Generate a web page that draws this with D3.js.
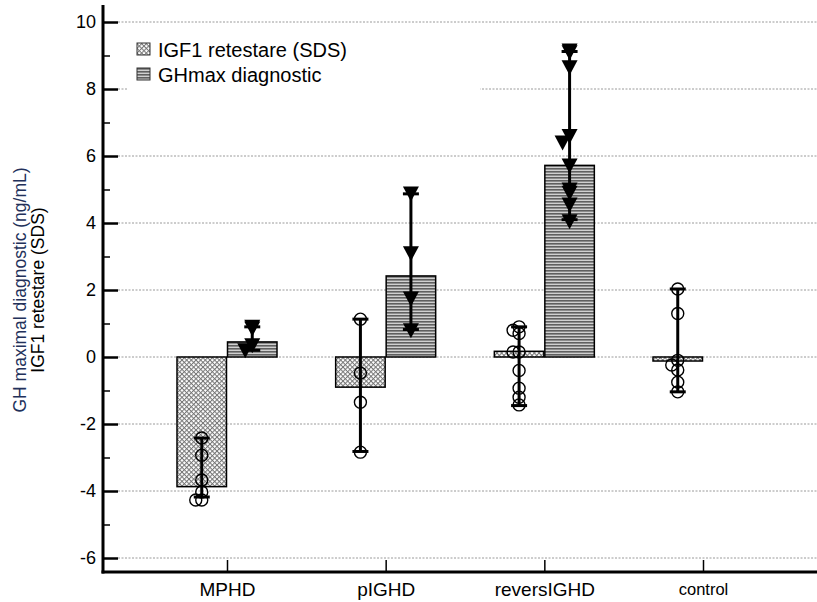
<!DOCTYPE html>
<html>
  <head>
    <meta charset="utf-8">
    <style>
      body { margin: 0; background: #fff; font-family: "Liberation Sans", Arial, sans-serif; }
      .grid line { stroke: #9a9a9a; stroke-width: 1; stroke-dasharray: 2,1.5; }
      .axis path, .axis line { stroke: #000; }
      .axis text { font-family: "Liberation Sans", Arial, sans-serif; fill: #000; }
    </style>
  </head>
  <body>
    <script src="https://d3js.org/d3.v7.min.js"></script>
    <script>
      // groups on the x axis
      var categories = ["MPHD", "pIGHD", "reversIGHD", "control"];

      // IGF1 retestare (SDS): bar value, error bar ends, individual points
      var igf1Mean = [-3.87, -0.9, 0.17, -0.12];
      var igf1Low  = [-4.18, -2.82, -1.45, -1.04];
      var igf1High = [-2.42, 1.13, 0.9, 2.03];
      var igf1Points = [
        [-2.42, -2.93, -3.67, -4.03, -4.27, -4.27],
        [1.13, -0.48, -1.35, -2.84],
        [0.9, 0.8, 0.7, 0.15, 0.15, -0.4, -0.93, -1.2, -1.43],
        [2.03, 1.3, -0.1, -0.24, -0.39, -0.75, -1.04]
      ];

      // GHmax diagnostic: no data for control
      var ghMean = [0.45, 2.42, 5.72, null];
      var ghLow  = [0.2, 0.82, 4.1, null];
      var ghHigh = [0.9, 4.87, 9.12, null];
      var ghPoints = [
        [0.9, 0.85, 0.35, 0.2],
        [4.88, 3.1, 1.75, 0.8],
        [9.15, 9.1, 8.65, 6.6, 6.4, 5.72, 5.0, 4.9, 4.55, 4.05],
        []
      ];

      var yTicks = [-6, -4, -2, 0, 2, 4, 6, 8, 10];
      var yMinorTicks = [-5, -3, -1, 1, 3, 5, 7, 9];
      var legendLabels = ["IGF1 retestare (SDS)", "GHmax diagnostic"];

      var width = 817, height = 602;
      var axisLeftX = 103, axisBottomY = 572, axisTopY = 5;

      var svg = d3.select("body").append("svg")
          .attr("width", width)
          .attr("height", height);

      var y = d3.scaleLinear().domain([-6, 10]).range([558, 22]);
      var x = d3.scalePoint().domain(categories).range([227, 703]);
      var sub = d3.scaleBand().domain(["igf1", "gh"]).range([-50, 50]).paddingInner(0.02);

      // fill patterns
      var defs = svg.append("defs");
      var hatch = defs.append("pattern")
          .attr("id", "hatch")
          .attr("patternUnits", "userSpaceOnUse")
          .attr("width", 3.3).attr("height", 3.3)
          .attr("patternTransform", "rotate(45)");
      hatch.append("rect").attr("width", 3.3).attr("height", 3.3).attr("fill", "#fff");
      hatch.append("path").attr("d", "M0.5,0V3.3M0,0.5H3.3")
          .attr("stroke", "#767676").attr("stroke-width", 1);

      var stripes = defs.append("pattern")
          .attr("id", "stripes")
          .attr("patternUnits", "userSpaceOnUse")
          .attr("width", 8).attr("height", 3);
      stripes.append("rect").attr("width", 8).attr("height", 3).attr("fill", "#d0d0d0");
      stripes.append("rect").attr("width", 8).attr("height", 1.6).attr("fill", "#606060");

      // gridlines
      svg.append("g").attr("class", "grid")
        .selectAll("line")
        .data(yTicks)
        .enter().append("line")
          .attr("x1", axisLeftX + 15).attr("x2", width)
          .attr("y1", function(d) { return y(d); })
          .attr("y2", function(d) { return y(d); });

      // legend background hides the gridline under it
      svg.append("rect")
          .attr("x", 128).attr("y", 30)
          .attr("width", 352).attr("height", 68)
          .attr("fill", "#fff");

      // build per-series rows
      var series = [
        {key: "igf1", fill: "url(#hatch)", mean: igf1Mean, low: igf1Low, high: igf1High, pts: igf1Points, shape: "circle"},
        {key: "gh", fill: "url(#stripes)", mean: ghMean, low: ghLow, high: ghHigh, pts: ghPoints, shape: "triangle"}
      ];

      var rows = [];
      series.forEach(function(s) {
        categories.forEach(function(c, i) {
          if (s.mean[i] == null) return;
          rows.push({
            s: s, cat: c,
            cx: x(c) + sub(s.key) + sub.bandwidth() / 2,
            mean: s.mean[i], low: s.low[i], high: s.high[i], pts: s.pts[i]
          });
        });
      });

      // bars
      svg.append("g").selectAll("rect")
          .data(rows)
          .enter().append("rect")
            .attr("x", function(d) { return x(d.cat) + sub(d.s.key); })
            .attr("width", sub.bandwidth())
            .attr("y", function(d) { return y(Math.max(0, d.mean)); })
            .attr("height", function(d) { return Math.abs(y(d.mean) - y(0)); })
            .attr("fill", function(d) { return d.s.fill; })
            .attr("stroke", "#000")
            .attr("stroke-width", 1.5);

      // error bars
      var err = svg.append("g").selectAll("g")
          .data(rows)
          .enter().append("g")
            .attr("stroke", "#000")
            .attr("stroke-width", 3);
      err.append("line")
          .attr("x1", function(d) { return d.cx; })
          .attr("x2", function(d) { return d.cx; })
          .attr("y1", function(d) { return y(d.low); })
          .attr("y2", function(d) { return y(d.high); });
      err.selectAll(".cap")
          .data(function(d) { return [{cx: d.cx, v: d.low}, {cx: d.cx, v: d.high}]; })
          .enter().append("line")
            .attr("class", "cap")
            .attr("x1", function(d) { return d.cx - 8; })
            .attr("x2", function(d) { return d.cx + 8; })
            .attr("y1", function(d) { return y(d.v); })
            .attr("y2", function(d) { return y(d.v); });

      // simple dodge so coinciding points sit side by side
      function dodge(values, cx, minDist, step) {
        var placed = [];
        return values.map(function(v) {
          var py = y(v), best = null;
          [0, -step, step].forEach(function(off) {
            var dmin = Infinity;
            placed.forEach(function(p) {
              var dd = Math.hypot(p.x - (cx + off), p.y - py);
              if (dd < dmin) dmin = dd;
            });
            if (best === null && dmin >= minDist) best = off;
          });
          if (best === null) best = 0;
          var pt = {x: cx + best, y: py};
          placed.push(pt);
          return pt;
        });
      }

      var points = svg.append("g");
      rows.forEach(function(r) {
        if (r.s.shape === "circle") {
          points.append("g").selectAll("circle")
              .data(dodge(r.pts, r.cx, 6, 6))
              .enter().append("circle")
                .attr("cx", function(d) { return d.x; })
                .attr("cy", function(d) { return d.y; })
                .attr("r", 6)
                .attr("fill", "none")
                .attr("stroke", "#000")
                .attr("stroke-width", 1.4);
        } else {
          points.append("g").selectAll("path")
              .data(dodge(r.pts, r.cx, 8, 7))
              .enter().append("path")
                .attr("d", "M-8,-7L8,-7L0,8Z")
                .attr("transform", function(d) { return "translate(" + d.x + "," + d.y + ")"; })
                .attr("fill", "#000");
        }
      });

      // y axis with inward ticks
      var yAxis = svg.append("g")
          .attr("class", "axis")
          .attr("transform", "translate(" + axisLeftX + ",0)")
          .call(d3.axisLeft(y).tickValues(yTicks).tickSizeInner(-15).tickSizeOuter(0).tickPadding(7)
            .tickFormat(function(d) { return String(d); }));
      yAxis.select(".domain").remove();
      yAxis.selectAll("line").attr("stroke-width", 2.5);
      yAxis.selectAll("text").style("font-size", "18px");

      svg.append("g")
          .attr("class", "axis")
          .attr("transform", "translate(" + axisLeftX + ",0)")
          .call(d3.axisLeft(y).tickValues(yMinorTicks).tickSizeInner(-7).tickSizeOuter(0).tickFormat(""))
        .call(function(g) { g.select(".domain").remove(); })
        .selectAll("line").attr("stroke-width", 1.5);

      // x axis with inward ticks
      var xAxis = svg.append("g")
          .attr("class", "axis")
          .attr("transform", "translate(0," + axisBottomY + ")")
          .call(d3.axisBottom(x).tickSizeInner(-12).tickSizeOuter(0).tickPadding(11));
      xAxis.select(".domain").remove();
      xAxis.selectAll("line").attr("stroke-width", 1.5);
      xAxis.selectAll("text")
          .style("font-size", function(d) { return d === "control" ? "16.5px" : "19px"; });

      // axis frame lines
      svg.append("line")
          .attr("x1", axisLeftX).attr("x2", axisLeftX)
          .attr("y1", axisTopY).attr("y2", axisBottomY + 1.5)
          .attr("stroke", "#000").attr("stroke-width", 3);
      svg.append("line")
          .attr("x1", axisLeftX - 1.5).attr("x2", width)
          .attr("y1", axisBottomY).attr("y2", axisBottomY)
          .attr("stroke", "#000").attr("stroke-width", 3);

      // y axis title, two lines
      var title = svg.append("g").attr("transform", "translate(0,290) rotate(-90)");
      title.append("text")
          .attr("x", 0).attr("y", 26)
          .attr("text-anchor", "middle")
          .style("font-size", "17.5px")
          .style("fill", "#22305a")
          .text("GH maximal diagnostic  (ng/mL)");
      title.append("text")
          .attr("x", 0).attr("y", 44)
          .attr("text-anchor", "middle")
          .style("font-size", "17.5px")
          .style("fill", "#000")
          .text("IGF1 retestare  (SDS)");

      // legend
      var legend = svg.append("g").selectAll("g")
          .data(legendLabels)
          .enter().append("g")
            .attr("transform", function(d, i) { return "translate(137," + (43 + i * 25) + ")"; });
      legend.append("rect")
          .attr("width", 13).attr("height", 12)
          .attr("fill", function(d, i) { return i === 0 ? "url(#hatch)" : "url(#stripes)"; })
          .attr("stroke", "#333").attr("stroke-width", 1);
      legend.append("text")
          .attr("x", 21).attr("y", 14)
          .style("font-size", "20px")
          .text(function(d) { return d; });
    </script>
  </body>
</html>
